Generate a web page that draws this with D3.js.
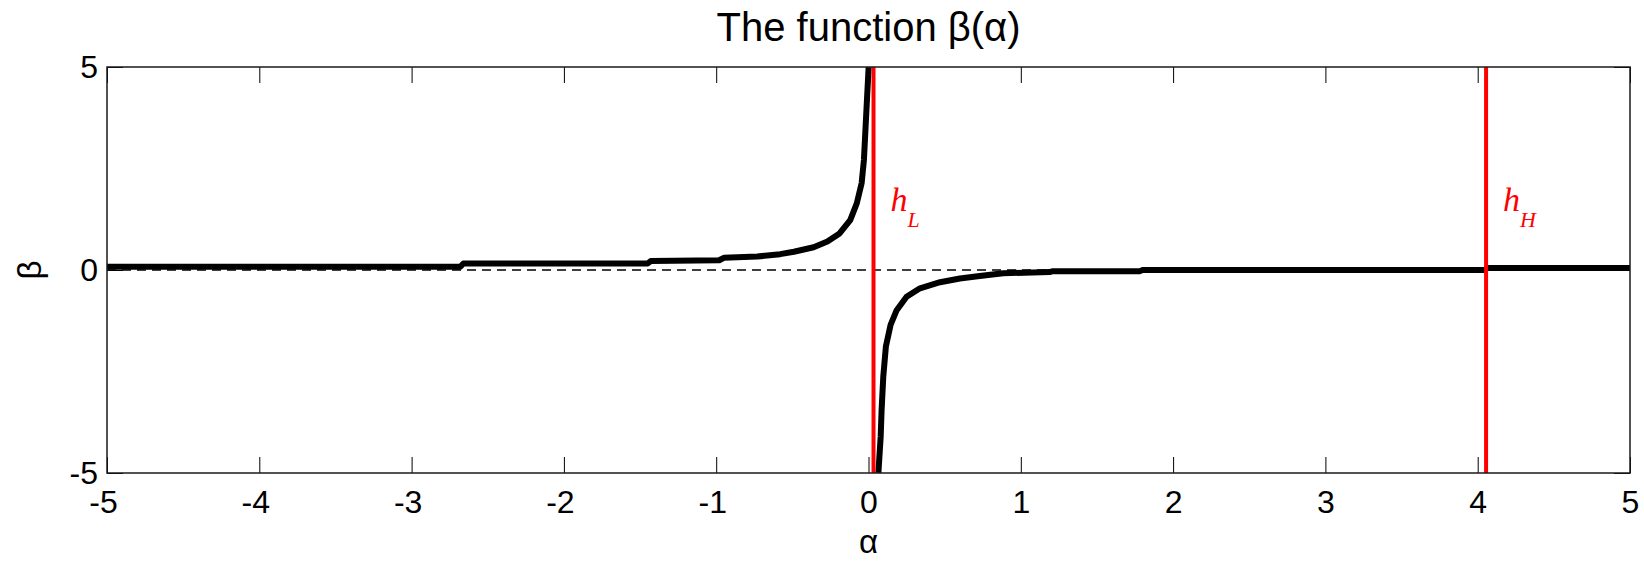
<!DOCTYPE html>
<html>
<head>
<meta charset="utf-8">
<title>The function β(α)</title>
<script src="https://cdn.jsdelivr.net/npm/d3@7"></script>
<style>
    html, body { margin: 0; padding: 0; background: #fff; }
    svg { display: block; }
    text { font-family: "Liberation Sans", Arial, sans-serif; fill: #000; }
</style>
</head>
<body>
<div id="chart"></div>
<script>
// data
var leftAlpha  = [-5, -2.68, -2.66, -1.45, -1.43, -0.98, -0.95, -0.73, -0.58, -0.49, -0.36, -0.27, -0.19, -0.12, -0.077, -0.045, -0.03, -0.019, -0.008, 0.001];
var leftBeta   = [0.08, 0.08, 0.16, 0.16, 0.22, 0.24, 0.30, 0.33, 0.39, 0.45, 0.56, 0.70, 0.90, 1.23, 1.64, 2.14, 2.71, 3.53, 4.35, 5.0];
var rightAlpha = [0.065, 0.08, 0.086, 0.097, 0.114, 0.145, 0.185, 0.25, 0.338, 0.47, 0.60, 0.73, 0.885, 1.19, 1.21, 1.78, 1.80, 4.05, 4.06, 5];
var rightBeta  = [-5, -4.1, -3.45, -2.63, -1.89, -1.35, -0.99, -0.66, -0.45, -0.30, -0.21, -0.15, -0.08, -0.05, -0.03, -0.03, 0.0, 0.0, 0.05, 0.05];
var markerNames = ['L', 'H'];
var markerAlpha = [0.033, 4.055];
var xTicks = [-5, -4, -3, -2, -1, 0, 1, 2, 3, 4, 5];
var yTicks = [-5, 0, 5];

(function(window, document, undefined) {
    'use strict';

    var width = 1644,
        height = 562,
        margin = { top: 67, right: 14, bottom: 89, left: 107 },
        w = width - margin.left - margin.right,
        h = height - margin.top - margin.bottom,
        tickLen = 16;

    var x = d3.scaleLinear().domain([-5, 5]).range([0, w]),
        y = d3.scaleLinear().domain([-5, 5]).range([h, 0]);

    // plain hyphen minus, like the original
    var fmt = function(d) { return String(d); };

    var svg = d3.select('#chart').append('svg')
                .attr('width', width)
                .attr('height', height);

    var g = svg.append('g')
                .attr('transform', 'translate(' + margin.left + ',' + margin.top + ')');

    g.append('clipPath').attr('id', 'plot-clip')
        .append('rect').attr('width', w).attr('height', h);

    /* + axes (matlab style box, ticks pointing in) */

    function styleAxis(sel) {
        sel.select('.domain').remove();
        sel.selectAll('.tick line').attr('stroke', '#000').attr('stroke-width', 1);
        sel.selectAll('.tick text')
            .style('font-size', '32px');
    }

    g.append('g')
        .attr('transform', 'translate(0,' + h + ')')
        .call(d3.axisBottom(x).tickValues(xTicks).tickSize(-tickLen).tickPadding(17).tickFormat(fmt))
        .call(styleAxis)
        .selectAll('.tick text')
        .attr('dx', function(d) { return d < 0 ? -4 : 0; });

    g.append('g')
        .call(d3.axisTop(x).tickValues(xTicks).tickSize(-tickLen).tickFormat(''))
        .call(styleAxis);

    g.append('g')
        .call(d3.axisLeft(y).tickValues(yTicks).tickSize(-tickLen).tickPadding(9).tickFormat(fmt))
        .call(styleAxis);

    g.append('g')
        .attr('transform', 'translate(' + w + ',0)')
        .call(d3.axisRight(y).tickValues(yTicks).tickSize(-tickLen).tickFormat(''))
        .call(styleAxis);

    /* = axes */

    /* + zero line */

    g.append('line')
        .attr('x1', x(-5)).attr('x2', x(5))
        .attr('y1', y(0)).attr('y2', y(0))
        .attr('stroke', '#000')
        .attr('stroke-width', 1.5)
        .attr('stroke-dasharray', '9,6');

    /* + curve, two branches */

    var line = d3.line()
                .x(function(d) { return x(d[0]); })
                .y(function(d) { return y(d[1]); });

    [[leftAlpha, leftBeta], [rightAlpha, rightBeta]].forEach(function(s) {
        g.append('path')
            .datum(d3.zip(s[0], s[1]))
            .attr('clip-path', 'url(#plot-clip)')
            .attr('fill', 'none')
            .attr('stroke', '#000')
            .attr('stroke-width', 6)
            .attr('stroke-linejoin', 'round')
            .attr('d', line);
    });

    /* + red markers h_L, h_H */

    markerAlpha.forEach(function(a, i) {
        g.append('line')
            .attr('x1', x(a)).attr('x2', x(a))
            .attr('y1', 0).attr('y2', h)
            .attr('stroke', '#ff0000')
            .attr('stroke-width', 4);

        var lbl = g.append('text')
                    .attr('x', x(a) + 17)
                    .attr('y', y(1.45))
                    .style('font-family', '"Liberation Serif", "Times New Roman", serif')
                    .style('font-style', 'italic')
                    .style('fill', '#ff0000');
        lbl.append('tspan').style('font-size', '34px').text('h');
        lbl.append('tspan').style('font-size', '22px').attr('dy', 16).text(markerNames[i]);
    });

    /* + box */

    g.append('rect')
        .attr('width', w).attr('height', h)
        .attr('fill', 'none')
        .attr('stroke', '#1a1a1a')
        .attr('stroke-width', 1.5);

    /* + labels */

    svg.append('text')
        .attr('x', margin.left + w / 2)
        .attr('y', 41)
        .attr('text-anchor', 'middle')
        .style('font-size', '40px')
        .text('The function β(α)');

    svg.append('text')
        .attr('x', margin.left + w / 2)
        .attr('y', 553)
        .attr('text-anchor', 'middle')
        .style('font-size', '33px')
        .text('α');

    svg.append('text')
        .attr('transform', 'translate(41,' + (margin.top + h / 2) + ') rotate(-90)')
        .attr('text-anchor', 'middle')
        .style('font-size', '33px')
        .text('β');

})(window, document);
</script>
</body>
</html>
